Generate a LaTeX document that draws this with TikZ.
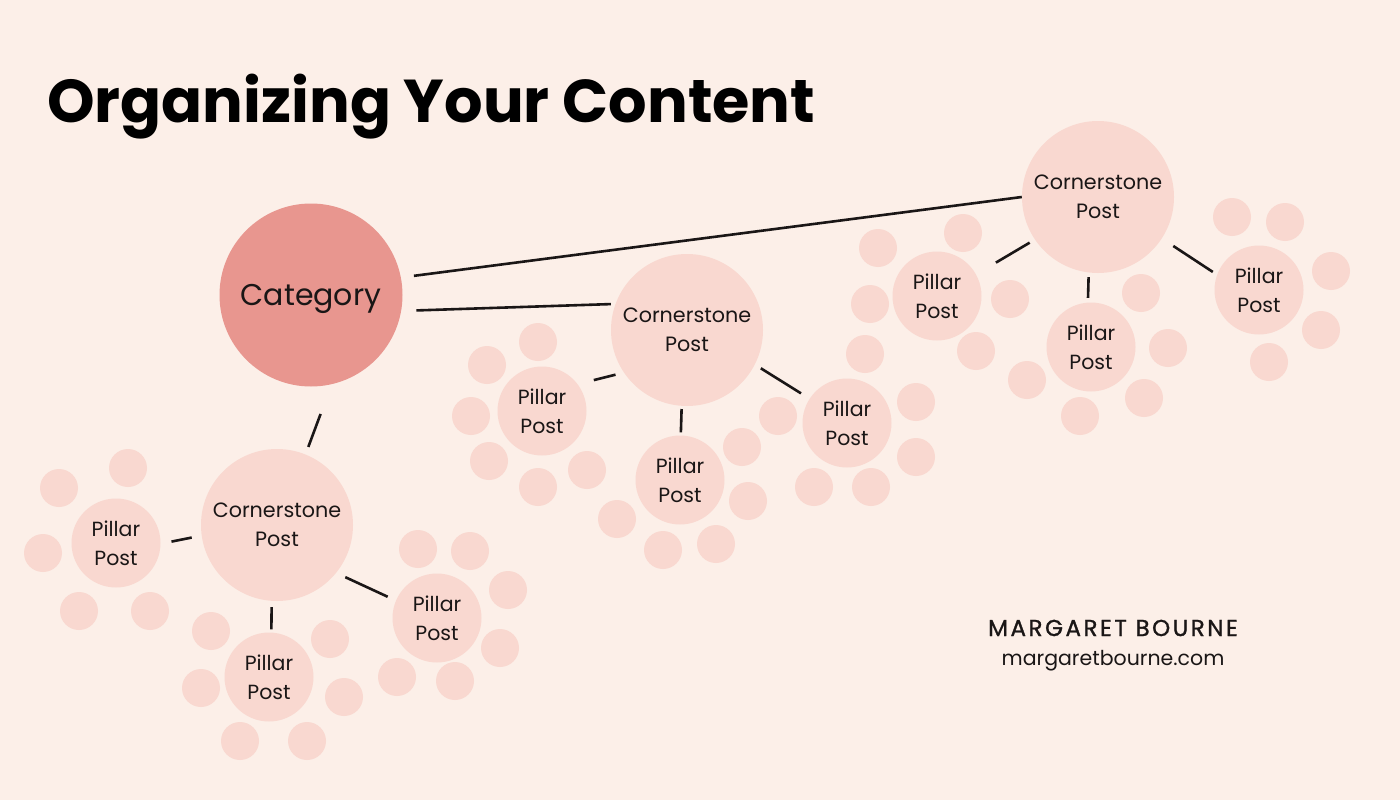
\documentclass[tikz,border=0pt]{standalone}
\usepackage{fontspec}
\setmainfont{Poppins}
\newfontfamily\brandfont[LetterSpace=11,FakeBold=1.2]{Poppins}
\usetikzlibrary{positioning}
\definecolor{bgpeach}{HTML}{FCEFE8}
\definecolor{catrose}{HTML}{E8968F}
\definecolor{blush}{HTML}{F9D8D0}
\definecolor{inkdark}{HTML}{1A1616}
\tikzset{
  catnode/.style={circle, fill=catrose, minimum size=183pt, inner sep=0pt, text depth=0pt, text=inkdark, font=\fontsize{30}{36}\selectfont},
  stonenode/.style={circle, fill=blush, minimum size=152pt, inner sep=0pt, align=center, text=inkdark, font=\fontsize{20.7}{29}\selectfont},
  pillarnode/.style={circle, fill=blush, minimum size=89pt, inner sep=0pt, align=center, text=inkdark, font=\fontsize{20.5}{29}\selectfont},
  link/.style={line width=2.6pt, draw=inkdark},
}
\begin{document}
\begin{tikzpicture}[x=1pt,y=-1pt]
\fill[bgpeach] (0,0) rectangle (1400,800);
\useasboundingbox (0,0) rectangle (1400,800);
\node[anchor=base west, inner sep=0pt] (title) at (47,122) {\fontsize{60.5}{72}\selectfont\bfseries Organizing Your Content};
\fill[blush] (59,488) circle (19pt);
\fill[blush] (128,468) circle (19pt);
\fill[blush] (43,553) circle (19pt);
\fill[blush] (79,611) circle (19pt);
\fill[blush] (150,611) circle (19pt);
\fill[blush] (211,631) circle (19pt);
\fill[blush] (201,688) circle (19pt);
\fill[blush] (240,741) circle (19pt);
\fill[blush] (307,741) circle (19pt);
\fill[blush] (344,697) circle (19pt);
\fill[blush] (330,639) circle (19pt);
\fill[blush] (418,549) circle (19pt);
\fill[blush] (470,551) circle (19pt);
\fill[blush] (508,590) circle (19pt);
\fill[blush] (500,648) circle (19pt);
\fill[blush] (455,681) circle (19pt);
\fill[blush] (397,677) circle (19pt);
\fill[blush] (487,365) circle (19pt);
\fill[blush] (538,342) circle (19pt);
\fill[blush] (471,416) circle (19pt);
\fill[blush] (489,461) circle (19pt);
\fill[blush] (538,487) circle (19pt);
\fill[blush] (587,470) circle (19pt);
\fill[blush] (617,519) circle (19pt);
\fill[blush] (663,550) circle (19pt);
\fill[blush] (716,544) circle (19pt);
\fill[blush] (742,447) circle (19pt);
\fill[blush] (748,501) circle (19pt);
\fill[blush] (865,354) circle (19pt);
\fill[blush] (916,402) circle (19pt);
\fill[blush] (916,457) circle (19pt);
\fill[blush] (871,487) circle (19pt);
\fill[blush] (814,487) circle (19pt);
\fill[blush] (778,416) circle (19pt);
\fill[blush] (878,248) circle (19pt);
\fill[blush] (963,233) circle (19pt);
\fill[blush] (870,304) circle (19pt);
\fill[blush] (976,351) circle (19pt);
\fill[blush] (1010,299) circle (19pt);
\fill[blush] (1141,293) circle (19pt);
\fill[blush] (1168,348) circle (19pt);
\fill[blush] (1144,398) circle (19pt);
\fill[blush] (1080,416) circle (19pt);
\fill[blush] (1027,380) circle (19pt);
\fill[blush] (1232,217) circle (19pt);
\fill[blush] (1285,222) circle (19pt);
\fill[blush] (1331,271) circle (19pt);
\fill[blush] (1321,330) circle (19pt);
\fill[blush] (1269,362) circle (19pt);
\node[catnode] (cat) at (311,295) {Category};
\node[stonenode] (cs1) at (277,525) {Cornerstone\\Post};
\node[stonenode] (cs2) at (687,330) {Cornerstone\\Post};
\node[stonenode] (cs3) at (1098,197) {Cornerstone\\Post};
\node[pillarnode] (p1l) at (116,543) {Pillar\\Post};
\node[pillarnode] (p1b) at (269,677) {Pillar\\Post};
\node[pillarnode] (p1r) at (437,618) {Pillar\\Post};
\node[pillarnode] (p2l) at (542,411) {Pillar\\Post};
\node[pillarnode] (p2b) at (680,480) {Pillar\\Post};
\node[pillarnode] (p2r) at (847,423) {Pillar\\Post};
\node[pillarnode] (p3l) at (937,296) {Pillar\\Post};
\node[pillarnode] (p3b) at (1091,347) {Pillar\\Post};
\node[pillarnode] (p3r) at (1259,290) {Pillar\\Post};
\draw[link, shorten <=13pt] (cat.11) -- (cs3.180);
\draw[link, shorten <=15pt, shorten >=4.6pt] (cat.-10) -- (cs2.160);
\draw[link, shorten <=31.6pt, shorten >=7.9pt] (cat.-77.5) -- (cs1.68);
\draw[link, shorten <=10pt, shorten >=11pt] (cs1.188) -- (p1l.-1);
\draw[link, shorten <=6pt, shorten >=3pt] (cs1.-94.5) -- (p1b.87);
\draw[link, shorten <=10pt, shorten >=9pt] (cs1.-39) -- (p1r.157);
\draw[link, shorten <=8.6pt, shorten >=16.6pt] (cs2.214.5) -- (p2l.37);
\draw[link, shorten <=3pt, shorten >=3pt] (cs2.-94) -- (p2b.89);
\draw[link, shorten <=7pt, shorten >=10pt] (cs2.-27) -- (p2r.147);
\draw[link, shorten <=6pt, shorten >=23pt] (cs3.214) -- (p3l.29);
\draw[link, shorten <=4.5pt, shorten >=4.5pt] (cs3.-97) -- (p3b.94);
\draw[link, shorten <=13.6pt, shorten >=5pt] (cs3.-33) -- (p3r.160);
\node[anchor=base, text=inkdark] (brand) at (1113,636) {\brandfont\fontsize{23}{26}\selectfont MARGARET BOURNE};
\node[anchor=base, text=inkdark] (site) at (1113,665) {\fontsize{20.5}{26}\selectfont margaretbourne.com};
\end{tikzpicture}
\end{document}
